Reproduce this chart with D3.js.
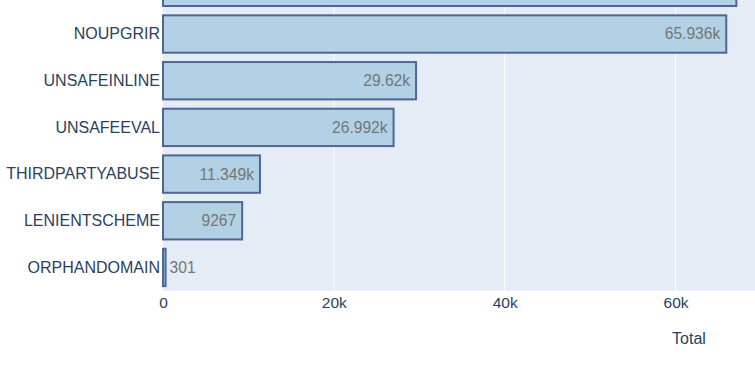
<!DOCTYPE html>
<html><head><meta charset="utf-8">
<script src="https://cdn.jsdelivr.net/npm/d3@7"></script>
<style>html,body{margin:0;padding:0;background:#fff;overflow:hidden}</style>
</head><body>
<script>
const categories = ["NOSRI", "NOUPGRIR", "UNSAFEINLINE", "UNSAFEEVAL", "THIRDPARTYABUSE", "LENIENTSCHEME", "ORPHANDOMAIN"];
const totals = [67117, 65936, 29620, 26992, 11349, 9267, 301];
const valueLabels = ["67.117k", "65.936k", "29.62k", "26.992k", "11.349k", "9267", "301"];
const xTicks = [0, 20000, 40000, 60000];
const xTickLabels = ["0", "20k", "40k", "60k"];
const axisTitle = "Total";

const W = 755, H = 372;
const FONT = "'Liberation Sans', Arial, sans-serif";
const svg = d3.select("body").append("svg").attr("width", W).attr("height", H)
  .style("font-family", FONT);

const x = d3.scaleLinear().domain([0, 70470]).range([163, 765]);
const y = d3.scaleBand().domain(categories).range([-36, 290.8]).paddingInner(0.2).paddingOuter(0.1);
// only the rows whose centre lies inside the picture keep their text (the top row is cropped off)
const visible = d => y(d) + y.bandwidth() / 2 > 0;

// plot background
svg.append("rect").attr("x", x(0)).attr("y", y.range()[0]).attr("width", x.range()[1] - x(0))
  .attr("height", y.range()[1] - y.range()[0]).attr("fill", "#e5ecf6");

// gridlines
svg.append("g").selectAll("line").data(xTicks.filter(d => d > 0)).join("line")
  .attr("x1", d => x(d)).attr("x2", d => x(d))
  .attr("y1", y.range()[0]).attr("y2", y.range()[1])
  .attr("stroke", "#fff").attr("stroke-width", 1);

// bars
svg.append("g").selectAll("rect").data(categories).join("rect")
  .attr("x", x(0)).attr("y", d => y(d))
  .attr("width", (d, i) => x(totals[i]) - x(0)).attr("height", y.bandwidth())
  .attr("fill", "#b3d1e4").attr("stroke", "#4f6596").attr("stroke-width", 2);

// value labels
const rows = categories.map((c, i) => ({c, v: totals[i], t: valueLabels[i]})).filter(r => visible(r.c));
svg.append("g").selectAll("text").data(rows).join("text")
  .attr("x", r => (x(r.v) - x(0) > 40 ? x(r.v) - 6 : x(r.v) + 4))
  .attr("y", r => y(r.c) + y.bandwidth() / 2)
  .attr("dy", "0.35em")
  .attr("text-anchor", r => (x(r.v) - x(0) > 40 ? "end" : "start"))
  .attr("fill", "#767676").attr("font-size", "15.6px")
  .text(r => r.t);

// y axis labels
const yAxis = d3.axisLeft(y).tickSize(0).tickPadding(3);
const gy = svg.append("g").attr("transform", `translate(${x(0)},0)`).call(yAxis);
gy.select(".domain").remove();
gy.selectAll(".tick").filter(d => !visible(d)).remove();
gy.selectAll("text").attr("font-size", "16px").attr("fill", "#2a3f5f").attr("font-family", FONT);

// x axis
const xAxis = d3.axisBottom(x).tickValues(xTicks).tickFormat((d, i) => xTickLabels[i]).tickSize(0).tickPadding(6);
const gx = svg.append("g").attr("transform", `translate(0,${y.range()[1]})`).call(xAxis);
gx.select(".domain").remove();
gx.selectAll("text").attr("font-size", "15.5px").attr("fill", "#2a3f5f").attr("font-family", FONT);

svg.append("text").attr("x", 689).attr("y", 338).attr("dy", "0.35em").attr("text-anchor", "middle")
  .attr("font-size", "16px").attr("fill", "#2a3f5f").text(axisTitle);
</script>
</body></html>
